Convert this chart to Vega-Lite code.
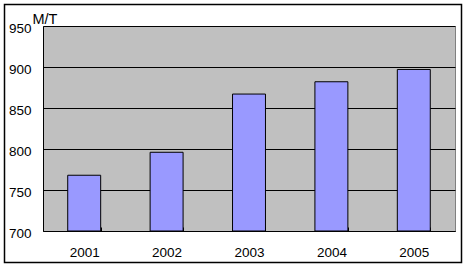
{
  "$schema": "https://vega.github.io/schema/vega-lite/v6.json",
  "autosize": {"type": "none"},
  "padding": {"left": 43, "top": 26, "right": 14, "bottom": 41},
  "width": 412,
  "height": 205,
  "background": "white",
  "data": {"values": [
    {"year": "2001", "value": 768},
    {"year": "2002", "value": 796},
    {"year": "2003", "value": 867},
    {"year": "2004", "value": 882},
    {"year": "2005", "value": 897}
  ]},
  "mark": {"type": "bar", "stroke": "black", "strokeWidth": 1},
  "encoding": {
    "x": {
      "field": "year", "type": "ordinal",
      "scale": {"paddingInner": 0.6, "paddingOuter": 0.3},
      "axis": {
        "title": null, "labelAngle": 0, "domainColor": "black", "domainWidth": 1,
        "tickBand": "extent", "tickSize": -4, "tickColor": "black",
        "labelPadding": 18, "labelFont": "Liberation Sans", "labelFontSize": 13.5,
        "labelColor": "black"
      }
    },
    "y": {
      "field": "value", "type": "quantitative",
      "scale": {"domain": [700, 950], "nice": false, "zero": false},
      "axis": {
        "values": [700, 750, 800, 850, 900, 950],
        "title": "M/T", "titleAngle": 0, "titleX": -11, "titleY": -3,
        "titleAlign": "left", "titleBaseline": "alphabetic",
        "titleFont": "Liberation Sans", "titleFontSize": 14.5, "titleFontWeight": "normal",
        "titleColor": "black",
        "ticks": false, "labelPadding": 12, "domainColor": "black",
        "gridColor": "black", "gridOpacity": 1, "gridWidth": 1,
        "labelFont": "Liberation Sans", "labelFontSize": 13.5, "labelColor": "black",
        "labelOffset": 2
      }
    },
    "y2": {"datum": 700},
    "color": {
      "field": "value", "type": "quantitative",
      "scale": {"range": ["#9999FF", "#9999FF"]},
      "legend": {
        "orient": "none", "legendX": -38.5, "legendY": -21.5,
        "direction": "vertical", "title": null,
        "gradientLength": 258, "gradientThickness": 457, "gradientOpacity": 0,
        "gradientStrokeWidth": 0,
        "labelExpr": "''", "labelOffset": 0, "padding": 0,
        "strokeColor": "black"
      }
    }
  },
  "config": {
    "view": {"fill": "#C0C0C0", "stroke": "#808080", "strokeWidth": 1},
    "legend": {"strokeWidth": 1.5}
  }
}
